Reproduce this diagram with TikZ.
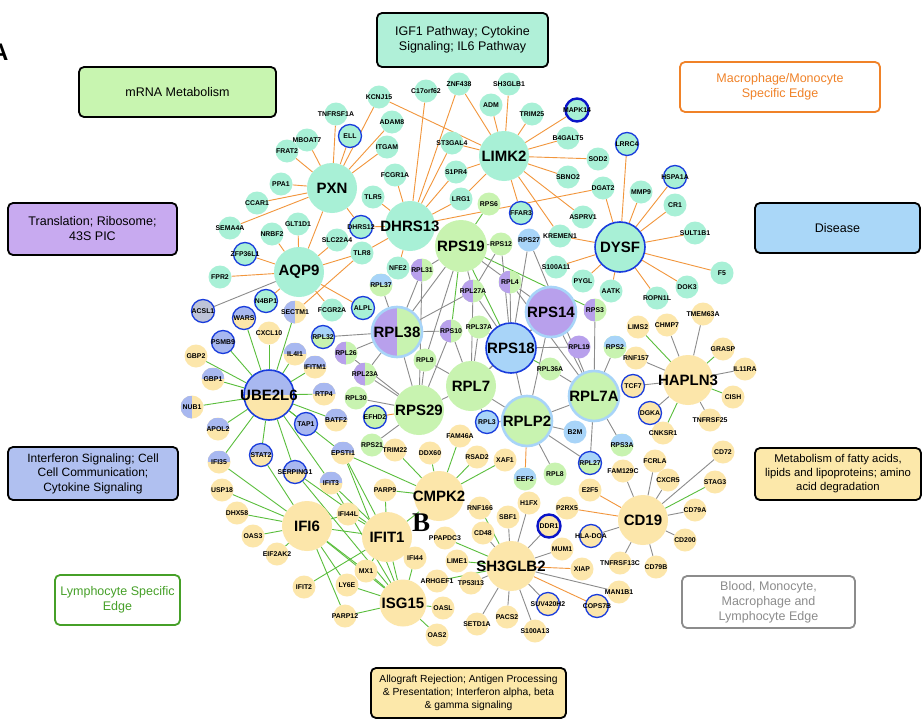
\documentclass[tikz,border=0pt]{standalone}
\usepackage{fontspec}
\setmainfont{Liberation Sans}
\newfontfamily\serifB{Liberation Serif}
\usetikzlibrary{backgrounds}
\definecolor{cT}{RGB}{168,240,214}
\definecolor{cG}{RGB}{200,243,176}
\definecolor{cB}{RGB}{168,212,248}
\definecolor{cP}{RGB}{184,160,236}
\definecolor{cY}{RGB}{252,230,170}
\definecolor{cL}{RGB}{168,184,240}
\definecolor{cAc}{RGB}{190,195,215}
\definecolor{cRing}{RGB}{25,60,220}
\definecolor{cDark}{RGB}{10,20,200}
\definecolor{cOr}{RGB}{242,150,60}
\definecolor{cGe}{RGB}{90,190,60}
\definecolor{cGy}{RGB}{140,140,140}
\definecolor{bxG}{RGB}{200,245,176}
\definecolor{bxT}{RGB}{176,240,216}
\definecolor{bxP}{RGB}{200,170,240}
\definecolor{bxB}{RGB}{170,215,248}
\definecolor{bxL}{RGB}{176,192,240}
\definecolor{bxY}{RGB}{252,232,170}
\definecolor{txO}{RGB}{240,130,40}
\definecolor{txG}{RGB}{70,160,40}
\definecolor{txGy}{RGB}{140,140,140}
\tikzset{
 sm/.style={circle,inner sep=0pt,minimum size=23pt},
 hb/.style={circle,inner sep=0pt,minimum size=50pt},
 lbs/.style={font=\fontsize{6.9}{7.5}\selectfont\bfseries,inner sep=0pt},
 lbh/.style={font=\fontsize{15}{16}\selectfont\bfseries,inner sep=0pt},
 fT/.style={fill=cT}, fG/.style={fill=cG}, fB/.style={fill=cB},
 fP/.style={fill=cP}, fY/.style={fill=cY}, fL/.style={fill=cL},
 rB/.style={draw=cRing,line width=1.3pt},
 rD/.style={draw=cDark,line width=2.4pt},
 rL/.style={draw=cB,line width=2.6pt},
 lh/.style={path picture={\fill[#1] (path picture bounding box.north) rectangle (path picture bounding box.south west);}},
 th/.style={path picture={\fill[#1] (path picture bounding box.west) rectangle (path picture bounding box.north east);}},
 eo/.style={draw=cOr,line width=0.9pt},
 eg/.style={draw=cGe,line width=0.9pt},
 ea/.style={draw=cGy,line width=0.9pt},
 box/.style={draw=black,line width=1.8pt,rounded corners=5pt,align=center,inner sep=0pt,
   font=\fontsize{12.5}{15}\selectfont},
}
\newcommand\sn[4]{\node[sm,#1,label={[lbs]center:#4}] (#2) at (#3) {};}
\newcommand\hn[4]{\node[hb,#1,label={[lbh]center:#4}] (#2) at (#3) {};}
\begin{document}
\begin{tikzpicture}[x=1pt,y=-1pt]
\useasboundingbox (0,0) rectangle (924,720);
% boxes
\node[box,fill=bxG,minimum width=197pt,minimum height=50pt] (bmrna) at (177.5,92) {mRNA Metabolism};
\node[box,fill=bxT,minimum width=171pt,minimum height=54pt] (bigf) at (462.5,40) {IGF1 Pathway; Cytokine\\Signaling; IL6 Pathway};
\node[box,draw=txO,fill=white,text=txO,minimum width=200pt,minimum height=50pt] (bmac) at (780,87) {Macrophage/Monocyte\\Specific Edge};
\node[box,fill=bxP,minimum width=169pt,minimum height=52pt] (btrans) at (92.5,229) {Translation; Ribosome;\\43S PIC};
\node[box,fill=bxB,minimum width=165pt,minimum height=50pt] (bdis) at (837.5,228) {Disease};
\node[box,fill=bxL,minimum width=170pt,minimum height=53pt,font=\fontsize{12}{14.5}\selectfont] (bifn) at (93,473.5) {Interferon Signaling; Cell\\Cell Communication;\\Cytokine Signaling};
\node[box,fill=bxY,minimum width=166pt,minimum height=52pt,font=\fontsize{11.3}{14}\selectfont] (bmet) at (838,474) {Metabolism of fatty acids,\\lipids and lipoproteins; amino\\acid degradation};
\node[box,draw=txG,fill=white,text=txG,minimum width=125pt,minimum height=50pt] (blym) at (117.5,600) {Lymphocyte Specific\\Edge};
\node[box,draw=txGy,fill=white,text=txGy,minimum width=173pt,minimum height=52pt] (bblood) at (768.5,602) {Blood, Monocyte,\\Macrophage and\\Lymphocyte Edge};
\node[box,fill=bxY,minimum width=195pt,minimum height=50pt,font=\fontsize{10.3}{13}\selectfont] (ballo) at (468.5,693) {Allograft Rejection; Antigen Processing\\\& Presentation; Interferon alpha, beta\\\& gamma signaling};
\node[font=\fontsize{24}{24}\selectfont\bfseries,anchor=west,inner sep=0pt] (lettA) at (-9,52) {A};
% teal small
\sn{fT}{KCNJ15}{379,97}{KCNJ15}
\sn{fT}{C17orf62}{426,91}{C17orf62}
\sn{fT}{ZNF438}{459,84}{ZNF438}
\sn{fT}{SH3GLB1}{509,84}{SH3GLB1}
\sn{fT}{ADM}{491,105}{ADM}
\sn{fT}{TRIM25}{532,114}{TRIM25}
\sn{fT,rD}{MAPK14}{577,110}{MAPK14}
\sn{fT}{TNFRSF1A}{336,114}{TNFRSF1A}
\sn{fT}{ADAM8}{392,122}{ADAM8}
\sn{fT,rB}{ELL}{350,136}{ELL}
\sn{fT}{MBOAT7}{307,140}{MBOAT7}
\sn{fT}{ITGAM}{387,147}{ITGAM}
\sn{fT}{FRAT2}{287,151}{FRAT2}
\sn{fT}{ST3GAL4}{452,143}{ST3GAL4}
\sn{fT}{B4GALT5}{568,138}{B4GALT5}
\sn{fT,rB}{LRRC4}{627,144}{LRRC4}
\sn{fT}{SOD2}{598,159}{SOD2}
\sn{fT}{S1PR4}{456,172}{S1PR4}
\sn{fT}{SBNO2}{568,177}{SBNO2}
\sn{fT,rB}{HSPA1A}{675,177}{HSPA1A}
\sn{fT}{FCGR1A}{395,175}{FCGR1A}
\sn{fT}{PPA1}{281,184}{PPA1}
\sn{fT}{DGAT2}{603,188}{DGAT2}
\sn{fT}{MMP9}{641,192}{MMP9}
\sn{fT}{TLR5}{373,197}{TLR5}
\sn{fT}{LRG1}{461,199}{LRG1}
\sn{fT}{CCAR1}{257,203}{CCAR1}
\sn{fT}{CR1}{675,205}{CR1}
\sn{fT,rB}{FFAR3}{521,213}{FFAR3}
\sn{fT}{ASPRV1}{583,217}{ASPRV1}
\sn{fT}{GLT1D1}{298,224}{GLT1D1}
\sn{fT}{SEMA4A}{230,228}{SEMA4A}
\sn{fT,rB}{DHRS12}{361,227}{DHRS12}
\sn{fT}{SULT1B1}{695,233}{SULT1B1}
\sn{fT}{NRBF2}{272,234}{NRBF2}
\sn{fT}{KREMEN1}{560,236}{KREMEN1}
\sn{fT}{SLC22A4}{337,240}{SLC22A4}
\sn{fT}{TLR8}{362,253}{TLR8}
\sn{fT,rB}{ZFP36L1}{245,254}{ZFP36L1}
\sn{fT}{S100A11}{556,267}{S100A11}
\sn{fT}{F5}{722,273}{F5}
\sn{fT}{FPR2}{220,277}{FPR2}
\sn{fT}{NFE2}{398,268}{NFE2}
\sn{fT}{PYGL}{583,281}{PYGL}
\sn{fT}{DOK3}{687,287}{DOK3}
\sn{fT}{AATK}{611,291}{AATK}
\sn{fT}{ROPN1L}{657,298}{ROPN1L}
\sn{fT,rB}{N4BP1}{266,301}{N4BP1}
\sn{fT,rB}{ALPL}{363,308}{ALPL}
\sn{fT}{FCGR2A}{332,310}{FCGR2A}
\sn{fill=cAc,rB}{ACSL1}{203,311}{ACSL1}
% ribosomal small
\sn{fG}{RPS6}{489,204}{RPS6}
\sn{fG}{RPS12}{501,244}{RPS12}
\sn{fB}{RPS27}{529,240}{RPS27}
\sn{fG,lh=cP}{RPL31}{422,270}{RPL31}
\sn{fG,th=cB}{RPL37}{381,285}{RPL37}
\sn{fG,lh=cP}{RPL4}{510,282}{RPL4}
\sn{fG,lh=cP}{RPL27A}{473,291}{RPL27A}
\sn{fG,lh=cP}{RPS3}{595,310}{RPS3}
\sn{fG,lh=cP}{RPS10}{451,331}{RPS10}
\sn{fG}{RPL37A}{479,327}{RPL37A}
\sn{fG,th=cB,rB}{RPL32}{323,337}{RPL32}
\sn{fG,lh=cP}{RPL26}{346,353}{RPL26}
\sn{fP}{RPL19}{579,347}{RPL19}
\sn{fG,th=cB}{RPS2}{615,347}{RPS2}
\sn{fG}{RPL9}{425,360}{RPL9}
\sn{fG}{RPL36A}{550,369}{RPL36A}
\sn{fG,lh=cP}{RPL23A}{365,374}{RPL23A}
\sn{fG}{RPL30}{356,398}{RPL30}
\sn{fG,rB}{EFHD2}{375,417}{EFHD2}
\sn{fB,rB}{RPL3}{487,422}{RPL3}
\sn{fB}{B2M}{575,432}{B2M}
\sn{fG,th=cB}{RPS3A}{622,445}{RPS3A}
\sn{fG}{RPS21}{372,445}{RPS21}
\sn{fG,th=cB,rB}{RPL27}{590,463}{RPL27}
\sn{fG}{RPL8}{555,474}{RPL8}
\sn{fG,th=cB}{EEF2}{525,479}{EEF2}
% interferon small
\sn{fY,th=cL,rB}{WARS}{244,318}{WARS}
\sn{fL,rB}{PSMB9}{223,342}{PSMB9}
\sn{fY}{CXCL10}{269,333}{CXCL10}
\sn{fY,lh=cL}{SECTM1}{295,312}{SECTM1}
\sn{fY,th=cL}{IL4I1}{295,354}{IL4I1}
\sn{fY}{GBP2}{196,356}{GBP2}
\sn{fY,th=cL}{IFITM1}{315,367}{IFITM1}
\sn{fY,th=cL}{GBP1}{213,379}{GBP1}
\sn{fY,th=cL}{RTP4}{324,394}{RTP4}
\sn{fY,lh=cL}{NUB1}{192,407}{NUB1}
\sn{fY,th=cL}{BATF2}{336,420}{BATF2}
\sn{fL,rB}{TAP1}{306,424}{TAP1}
\sn{fY,th=cL}{APOL2}{218,429}{APOL2}
\sn{fY,th=cL,rB}{STAT2}{261,455}{STAT2}
\sn{fY,th=cL}{EPSTI1}{343,453}{EPSTI1}
\sn{fY,th=cL}{IFI35}{219,462}{IFI35}
\sn{fY,th=cL,rB}{SERPING1}{295,472}{SERPING1}
\sn{fY,th=cL}{IFIT3}{331,483}{IFIT3}
\sn{fY}{USP18}{222,490}{USP18}
\sn{fY}{PARP9}{385,490}{PARP9}
\sn{fY}{DHX58}{237,513}{DHX58}
\sn{fY}{IFI44L}{348,514}{IFI44L}
\sn{fY}{OAS3}{253,536}{OAS3}
\sn{fY}{EIF2AK2}{277,554}{EIF2AK2}
\sn{fY}{IFI44}{415,558}{IFI44}
\sn{fY}{MX1}{366,571}{MX1}
\sn{fY}{IFIT2}{304,587}{IFIT2}
\sn{fY}{LY6E}{347,585}{LY6E}
\sn{fY}{PARP12}{345,616}{PARP12}
\sn{fY}{TRIM22}{395,450}{TRIM22}
\sn{fY}{DDX60}{430,453}{DDX60}
\sn{fY}{FAM46A}{460,436}{FAM46A}
\sn{fY}{RSAD2}{477,457}{RSAD2}
\sn{fY}{XAF1}{505,460}{XAF1}
% yellow small
\sn{fY}{RNF166}{480,508}{RNF166}
\sn{fY}{H1FX}{529,503}{H1FX}
\sn{fY}{SBF1}{508,517}{SBF1}
\sn{fY}{P2RX5}{567,508}{P2RX5}
\sn{fY}{E2F5}{590,490}{E2F5}
\sn{fY,rD}{DDR1}{549,526}{DDR1}
\sn{fY,rB}{HLADOA}{591,536}{HLA-DOA}
\sn{fY}{CD48}{483,533}{CD48}
\sn{fY}{PPAPDC3}{445,538}{PPAPDC3}
\sn{fY}{MUM1}{562,549}{MUM1}
\sn{fY}{LIME1}{457,561}{LIME1}
\sn{fY}{XIAP}{582,569}{XIAP}
\sn{fY}{TNFRSF13C}{620,563}{TNFRSF13C}
\sn{fY}{CD79B}{656,567}{CD79B}
\sn{fY}{ARHGEF1}{437,581}{ARHGEF1}
\sn{fY}{TP53I13}{471,583}{TP53I13}
\sn{fY}{MAN1B1}{619,592}{MAN1B1}
\sn{fY}{OASL}{443,608}{OASL}
\sn{fY,rB}{SUV420H2}{548,604}{SUV420H2}
\sn{fY,rB}{COPS7B}{597,606}{COPS7B}
\sn{fY}{PACS2}{507,617}{PACS2}
\sn{fY}{SETD1A}{477,624}{SETD1A}
\sn{fY}{S100A13}{535,631}{S100A13}
\sn{fY}{OAS2}{437,635}{OAS2}
\sn{fY}{FAM129C}{623,471}{FAM129C}
\sn{fY}{FCRLA}{655,461}{FCRLA}
\sn{fY}{CXCR5}{668,480}{CXCR5}
\sn{fY}{CD72}{723,452}{CD72}
\sn{fY}{STAG3}{715,482}{STAG3}
\sn{fY}{CD79A}{695,510}{CD79A}
\sn{fY}{CD200}{685,540}{CD200}
\sn{fY}{CNKSR1}{663,433}{CNKSR1}
\sn{fY,rB}{DGKA}{650,413}{DGKA}
\sn{fY,rB}{TCF7}{633,386}{TCF7}
\sn{fY}{RNF157}{636,358}{RNF157}
\sn{fY}{LIMS2}{638,327}{LIMS2}
\sn{fY}{CHMP7}{667,325}{CHMP7}
\sn{fY}{TMEM63A}{703,314}{TMEM63A}
\sn{fY}{GRASP}{723,349}{GRASP}
\sn{fY}{IL11RA}{745,369}{IL11RA}
\sn{fY}{CISH}{733,397}{CISH}
\sn{fY}{TNFRSF25}{710,420}{TNFRSF25}
% hubs
\hn{fT}{PXN}{332,188}{PXN}
\hn{fT}{DHRS13}{410,226}{DHRS13}
\hn{fT}{LIMK2}{504,156}{LIMK2}
\hn{fT}{AQP9}{299,272}{AQP9}
\hn{fT,rB,line width=1.6pt}{DYSF}{620,247}{DYSF}
\hn{fG,minimum size=52pt}{RPS19}{461,246}{RPS19}
\hn{fP,rL}{RPS14}{551,312}{RPS14}
\hn{fG,lh=cP,rL}{RPL38}{397,332}{RPL38}
\hn{fB,rB,line width=1.6pt}{RPS18}{511,348}{RPS18}
\hn{fG}{RPL7}{471,386}{RPL7}
\hn{fG}{RPS29}{419,410}{RPS29}
\hn{fG,rL}{RPLP2}{527,421}{RPLP2}
\hn{fG,rL}{RPL7A}{594,396}{RPL7A}
\hn{fY,th=cL,rB,line width=1.6pt}{UBE2L6}{269,395}{UBE2L6}
\hn{fY}{CMPK2}{439,496}{CMPK2}
\hn{fY}{IFI6}{307,526}{IFI6}
\hn{fY}{IFIT1}{387,537}{IFIT1}
\hn{fY,minimum size=47pt}{ISG15}{403,603}{ISG15}
\hn{fY}{SH3GLB2}{511,566}{SH3GLB2}
\hn{fY}{CD19}{643,520}{CD19}
\hn{fY}{HAPLN3}{688,380}{HAPLN3}
\node[font=\serifB\fontsize{27}{27}\selectfont\bfseries,inner sep=0pt] (lettB) at (421,523) {B};
% edges
\begin{scope}[on background layer]
\fill[white] (0,0) rectangle (924,720);
\foreach \a/\b in {PXN/TNFRSF1A,PXN/ELL,PXN/ADAM8,PXN/ITGAM,PXN/KCNJ15,PXN/MBOAT7,PXN/FRAT2,PXN/PPA1,PXN/CCAR1,PXN/SEMA4A,PXN/DHRS12,PXN/AQP9,
 DHRS13/C17orf62,DHRS13/FCGR1A,DHRS13/TLR5,DHRS13/DHRS12,DHRS13/ZNF438,DHRS13/ST3GAL4,DHRS13/S1PR4,DHRS13/LRG1,DHRS13/DGAT2,DHRS13/TLR8,DHRS13/NFE2,
 LIMK2/ZNF438,LIMK2/ADM,LIMK2/SH3GLB1,LIMK2/TRIM25,LIMK2/MAPK14,LIMK2/B4GALT5,LIMK2/SOD2,LIMK2/SBNO2,LIMK2/ASPRV1,LIMK2/KREMEN1,LIMK2/FFAR3,LIMK2/LRG1,LIMK2/S1PR4,LIMK2/ST3GAL4,LIMK2/KCNJ15,
 DYSF/LRRC4,DYSF/MMP9,DYSF/HSPA1A,DYSF/CR1,DYSF/SULT1B1,DYSF/F5,DYSF/DOK3,DYSF/ROPN1L,DYSF/AATK,DYSF/PYGL,DYSF/S100A11,DYSF/KREMEN1,DYSF/DGAT2,
 AQP9/ZFP36L1,AQP9/FPR2,AQP9/GLT1D1,AQP9/NRBF2,AQP9/SLC22A4,AQP9/TLR8,AQP9/N4BP1,AQP9/ALPL,AQP9/FCGR2A,
 SECTM1/TLR8,RPS29/EFHD2,RPLP2/EEF2,SH3GLB2/XIAP,SH3GLB2/COPS7B,CD19/P2RX5,CD19/E2F5}
 \draw[eo] (\a) -- (\b);
\foreach \a/\b in {RPS19/RPS6,RPS19/RPS10,RPS19/RPS18,RPS19/RPS3,RPS18/RPL36A,
 UBE2L6/WARS,UBE2L6/PSMB9,UBE2L6/GBP2,UBE2L6/GBP1,UBE2L6/NUB1,UBE2L6/APOL2,UBE2L6/IFI35,UBE2L6/STAT2,UBE2L6/SERPING1,UBE2L6/TAP1,UBE2L6/BATF2,UBE2L6/RTP4,UBE2L6/IFITM1,UBE2L6/IL4I1,UBE2L6/CXCL10,UBE2L6/SECTM1,UBE2L6/EPSTI1,UBE2L6/IFIT3,
 IFI6/IFI35,IFI6/USP18,IFI6/DHX58,IFI6/OAS3,IFI6/EIF2AK2,IFI6/STAT2,IFI6/IFIT1,IFI6/MX1,IFI6/LY6E,IFI6/PARP12,IFI6/ISG15,IFI6/IFI44L,
 IFIT1/EPSTI1,IFIT1/IFIT3,IFIT1/IFI44L,IFIT1/PARP9,IFIT1/CMPK2,IFIT1/MX1,IFIT1/IFI44,IFIT1/ISG15,IFIT1/IFIT2,IFIT1/SERPING1,
 ISG15/MX1,ISG15/LY6E,ISG15/PARP12,ISG15/IFI44,ISG15/OASL,ISG15/OAS2,ISG15/IFIT3,ISG15/EPSTI1,ISG15/SERPING1,
 CMPK2/TRIM22,CMPK2/DDX60,CMPK2/FAM46A,CMPK2/RSAD2,CMPK2/XAF1,CMPK2/EPSTI1,CMPK2/PARP9,
 SH3GLB2/RNF166,SH3GLB2/PPAPDC3,SH3GLB2/LIME1,SH3GLB2/ARHGEF1,
 CD19/STAG3,HAPLN3/LIMS2,HAPLN3/GRASP,HAPLN3/CISH,HAPLN3/CNKSR1}
 \draw[eg] (\a) -- (\b);
\foreach \a/\b in {AQP9/ACSL1,
 RPL38/RPL37,RPL38/RPL31,RPL38/RPL32,RPL38/RPL26,RPL38/RPL23A,RPL38/RPS10,RPL38/RPL27A,RPL38/RPS29,RPL38/RPS19,
 RPS19/RPL31,RPS19/RPS12,RPS19/RPL27A,RPS19/RPL9,RPS19/RPL4,
 RPS12/RPS18,RPS12/RPL27A,RPS27/RPL7A,RPS27/RPS18,
 RPL4/RPS14,RPL4/RPL7A,RPL4/RPS18,RPL27A/RPL7,RPL27A/RPS18,
 RPS14/RPL7A,RPS14/RPS18,RPS14/RPLP2,RPS14/RPL7,RPS3/RPL7A,RPL19/RPS18,RPS2/RPL7A,
 RPS18/RPL7,RPS18/RPLP2,RPS18/RPL37A,
 RPL7/RPS29,RPL7/RPL9,RPL7/RPS10,RPL7/RPL37A,RPL7/RPLP2,RPL7/RPL3,
 RPLP2/B2M,RPLP2/RPL3,RPLP2/RPL8,RPLP2/RPL27,
 RPL7A/RPS3A,RPL7A/RPL27,RPL7A/RPL36A,RPL7A/RPLP2,
 RPS29/RPL30,RPS29/RPS21,RPS29/RPL23A,RPS29/RPL9,RPS29/RPS10,RPS29/RPL26,RPL31/RPS29,
 SH3GLB2/SBF1,SH3GLB2/H1FX,SH3GLB2/DDR1,SH3GLB2/CD48,SH3GLB2/TP53I13,SH3GLB2/SETD1A,SH3GLB2/PACS2,SH3GLB2/S100A13,SH3GLB2/SUV420H2,SH3GLB2/MAN1B1,SH3GLB2/MUM1,
 CD19/FAM129C,CD19/FCRLA,CD19/CXCR5,CD19/CD72,CD19/CD79A,CD19/CD200,CD19/CD79B,CD19/TNFRSF13C,CD19/HLADOA,
 HAPLN3/CHMP7,HAPLN3/TMEM63A,HAPLN3/IL11RA,HAPLN3/TNFRSF25,HAPLN3/RNF157,HAPLN3/TCF7,HAPLN3/DGKA}
 \draw[ea] (\a) -- (\b);
\end{scope}
\end{tikzpicture}
\end{document}
